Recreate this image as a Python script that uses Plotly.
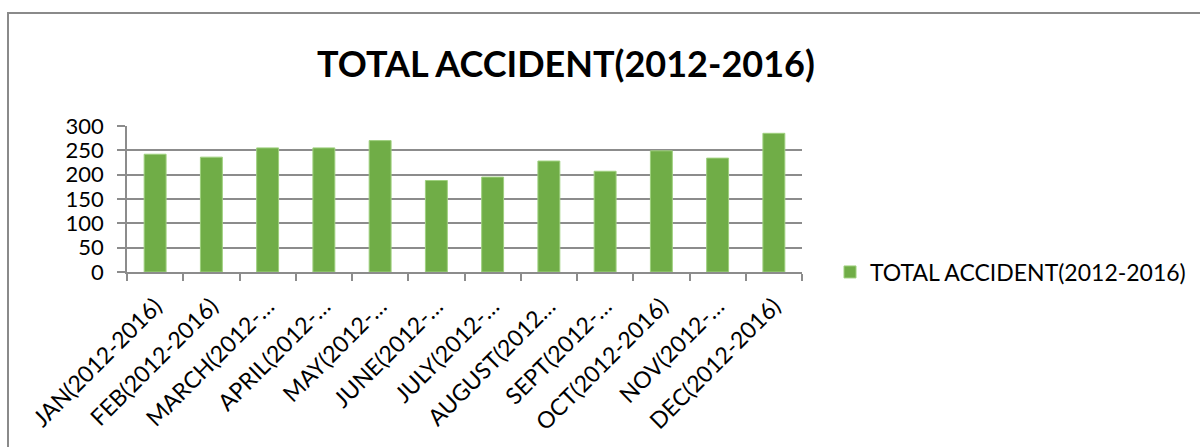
import plotly.graph_objects as go

# Monthly accident totals, 2012-2016
months = [
    "JAN(2012-2016)", "FEB(2012-2016)", "MARCH(2012-…", "APRIL(2012-…",
    "MAY(2012-…", "JUNE(2012-…", "JULY(2012-…", "AUGUST(2012…",
    "SEPT(2012-…", "OCT(2012-2016)", "NOV(2012-…", "DEC(2012-2016)",
]
accidents = [242, 236, 255, 255, 270, 188, 195, 228, 207, 249, 234, 285]
series_name = "TOTAL ACCIDENT(2012-2016)"
y_ticks = [0, 50, 100, 150, 200, 250, 300]

W, H = 1200, 447
L, R, T, B = 127, 398, 126, 175

font_main = "Lato, 'Open Sans', sans-serif"
grid_col = "#8c8c8c"
bar_col = "#70AD47"

fig = go.Figure()
fig.add_trace(go.Bar(
    x=months, y=accidents, name=series_name,
    marker=dict(color=bar_col, line=dict(color="#9fd07f", width=1)),
    width=0.39, showlegend=True,
))

fig.update_layout(
    width=W, height=H,
    margin=dict(l=L, r=R, t=T, b=B, autoexpand=False),
    paper_bgcolor="white", plot_bgcolor="white",
    font=dict(family=font_main, color="#000000", size=20),
    showlegend=True,
    legend=dict(x=1.0415, y=0.0, xanchor="left", yanchor="middle",
                font=dict(size=23, family=font_main), bgcolor="rgba(0,0,0,0)"),
    xaxis=dict(
        type="category", tickangle=-45, tickfont=dict(size=23),
        showline=True, linecolor=grid_col, linewidth=1.5,
        ticks="outside", ticklen=7, tickcolor=grid_col, tickwidth=1.5,
        tickson="boundaries", showgrid=False, automargin=False,
        ticklabelstandoff=10,
    ),
    yaxis=dict(
        range=[0, 300], tickvals=y_ticks, tickfont=dict(size=22),
        showgrid=True, gridcolor=grid_col, gridwidth=1.5,
        showline=True, linecolor=grid_col, linewidth=1.5,
        ticks="outside", ticklen=8, tickcolor=grid_col, tickwidth=1.5,
        zeroline=False, automargin=False, fixedrange=True,
        ticklabelstandoff=9,
    ),
    bargap=0.61,
    annotations=[dict(
        text="<b>TOTAL ACCIDENT(2012-2016)</b>", xref="paper", yref="paper",
        x=(566 - L) / (W - L - R), y=1 + (T - 63.5) / (H - T - B),
        xanchor="center", yanchor="middle", showarrow=False,
        font=dict(size=36, family=font_main, color="#000000"),
    )],
    shapes=[dict(
        type="rect", xref="paper", yref="paper",
        x0=(8 - L) / (W - L - R), x1=(1210 - L) / (W - L - R),
        y0=-(H + 20 - (H - B)) / (H - T - B), y1=1 + (T - 13) / (H - T - B),
        line=dict(color="#8a8a8a", width=2), fillcolor="rgba(0,0,0,0)", layer="below",
    )],
)

fig.write_html("out.html")
